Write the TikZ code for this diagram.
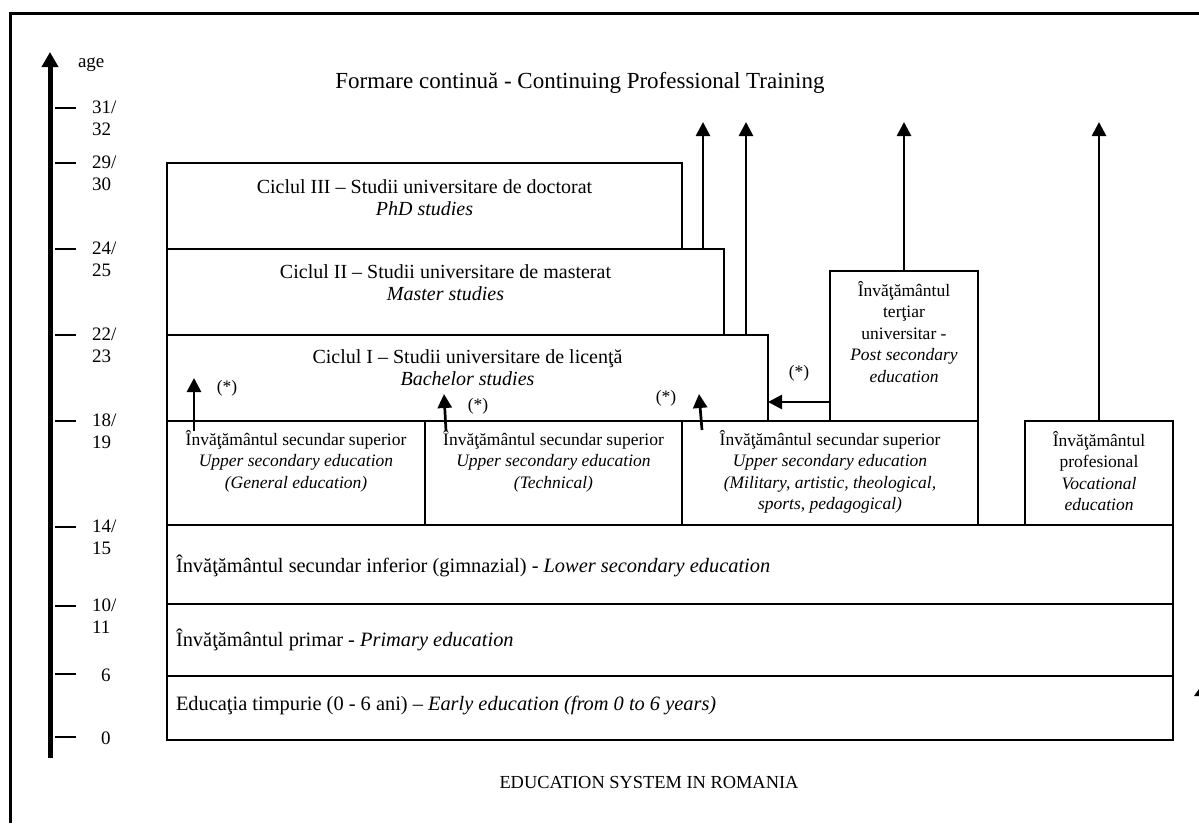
\documentclass[tikz,border=0pt]{standalone}
\usepackage{fontspec}
\setmainfont{Liberation Serif}
\usetikzlibrary{arrows.meta,calc}
\begin{document}
\begin{tikzpicture}[x=1pt,y=-1pt,
  every node/.style={inner sep=0pt, outer sep=0pt},
  box/.style={draw, line width=2pt, rectangle, anchor=north west},
  bigtxt/.style={font=\fontsize{20}{22}\selectfont, align=center, anchor=north},
  midtxt/.style={font=\fontsize{17.5}{21.5}\selectfont, align=center, anchor=north},
  lowtxt/.style={font=\fontsize{20.4}{22}\selectfont, anchor=west},
  agetxt/.style={font=\fontsize{19}{22}\selectfont, align=left, anchor=north west},
  startxt/.style={font=\fontsize{17.5}{21.5}\selectfont},
  flow/.style={line width=2.7pt, -{Triangle[width=14pt,length=14pt]}},
  agetick/.style={line width=1.6pt},
]
\useasboundingbox (0,0) rectangle (1199,823);
% outer frame
\draw[line width=3pt] (10,823) -- (10,13) -- (1199,13);
\fill (1199,689) -- (1194,696) -- (1199,696) -- cycle;

% title and caption
\node[font=\fontsize{23}{26}\selectfont, anchor=base] (title) at (580,88) {Formare continuă - Continuing Professional Training};
\node[font=\fontsize{18.4}{22}\selectfont, anchor=base] (caption) at (649,788) {EDUCATION SYSTEM IN ROMANIA};

% age axis
\coordinate (axb) at (50,758);
\coordinate (axt) at (50,52);
\draw[line width=5pt, -{Triangle[width=16pt,length=15pt]}] (axb) -- (axt);
\node[font=\fontsize{19}{22}\selectfont, anchor=west] (age) at (78,65) {age};
\foreach \y/\t [count=\i] in {108/{31/\\32}, 163/{29/\\30}, 249/{24/\\25}, 335/{22/\\23}, 421/{18/\\19}, 527/{14/\\15}, 606/{10/\\11}}{
  \draw[agetick] (55,\y) -- (76,\y);
  \node[agetxt] (lab\i) at (92,\y-7) {\t};
}
\draw[agetick] (55,674) -- (76,674);
\node[font=\fontsize{19}{22}\selectfont, anchor=west] (lab8) at (101,675) {6};
\draw[agetick] (55,737) -- (76,737);
\node[font=\fontsize{19}{22}\selectfont, anchor=west] (lab9) at (101,738) {0};

% boxes
\node[box, minimum width=515pt, minimum height=86pt] (c3) at (167,163) {};
\node[box, minimum width=557pt, minimum height=86pt] (c2) at (167,249) {};
\node[box, minimum width=601pt, minimum height=86pt] (c1) at (167,335) {};
\node[box, minimum width=148pt, minimum height=150pt] (ps) at (830,271) {};
\node[box, minimum width=258pt, minimum height=104pt] (us1) at (167,421) {};
\node[box, minimum width=257pt, minimum height=104pt] (us2) at (425,421) {};
\node[box, minimum width=296pt, minimum height=104pt] (us3) at (682,421) {};
\node[box, minimum width=148pt, minimum height=104pt] (voc) at (1025,421) {};
\node[box, minimum width=1006pt, minimum height=79pt] (ls) at (167,525) {};
\node[box, minimum width=1006pt, minimum height=72pt] (pr) at (167,604) {};
\node[box, minimum width=1006pt, minimum height=64pt] (ee) at (167,676) {};

% box texts
\node[bigtxt] (t3) at (424.5,180) {Ciclul III – Studii universitare de doctorat\\\textit{PhD studies}};
\node[bigtxt] (t2) at (445.5,265) {Ciclul II – Studii universitare de masterat\\\textit{Master studies}};
\node[bigtxt] (t1) at (467.5,350) {Ciclul I – Studii universitare de licenţă\\\textit{Bachelor studies}};
\node[midtxt] (tps) at (904,281) {Învăţământul\\terţiar\\universitar -\\\textit{Post secondary}\\\textit{education}};
\node[midtxt] (tus1) at (296,430) {Învăţământul secundar superior\\\textit{Upper secondary education}\\\textit{(General education)}};
\node[midtxt] (tus2) at (553.5,430) {Învăţământul secundar superior\\\textit{Upper secondary education}\\\textit{(Technical)}};
\node[midtxt] (tus3) at (830,430) {Învăţământul secundar superior\\\textit{Upper secondary education}\\\textit{(Military, artistic, theological,}\\\textit{sports, pedagogical)}};
\node[midtxt] (tvoc) at (1099,431) {Învăţământul\\profesional\\\textit{Vocational}\\\textit{education}};
\node[lowtxt] (tls) at (176,566) {Învăţământul secundar inferior (gimnazial) - \textit{Lower secondary education}};
\node[lowtxt] (tpr) at (176,640) {Învăţământul primar - \textit{Primary education}};
\node[lowtxt] (tee) at (176,706) {Educaţia timpurie (0 - 6 ani) – \textit{Early education (from 0 to 6 years)}};

% exits to continuing training
\coordinate (o1) at (703,122);
\coordinate (o2) at (746,122);
\coordinate (o3) at (904,122);
\coordinate (o4) at (1099,122);
\draw[flow] (c2.north west -| o1) -- (o1);
\draw[flow] (c1.north west -| o2) -- (o2);
\draw[flow] (ps.north) -- (o3);
\draw[flow] (voc.north) -- (o4);

% access arrows into bachelor studies
\coordinate (a1s) at (194,431);
\coordinate (a1e) at (194,378);
\coordinate (a2s) at (446,431);
\coordinate (a2e) at (444,394);
\coordinate (a3s) at (702,430);
\coordinate (a3e) at (699,394);
\draw[flow] (a1s) -- (a1e);
\draw[flow] (a2s) -- (a2e);
\draw[flow] (a3s) -- (a3e);
\coordinate (h) at (830,402);
\draw[flow] (h) -- (h -| c1.east);

\node[startxt] (s1) at (227,388) {(*)};
\node[startxt] (s2) at (478,406) {(*)};
\node[startxt] (s3) at (666,398) {(*)};
\node[startxt] (s4) at (799,373) {(*)};
\end{tikzpicture}
\end{document}
